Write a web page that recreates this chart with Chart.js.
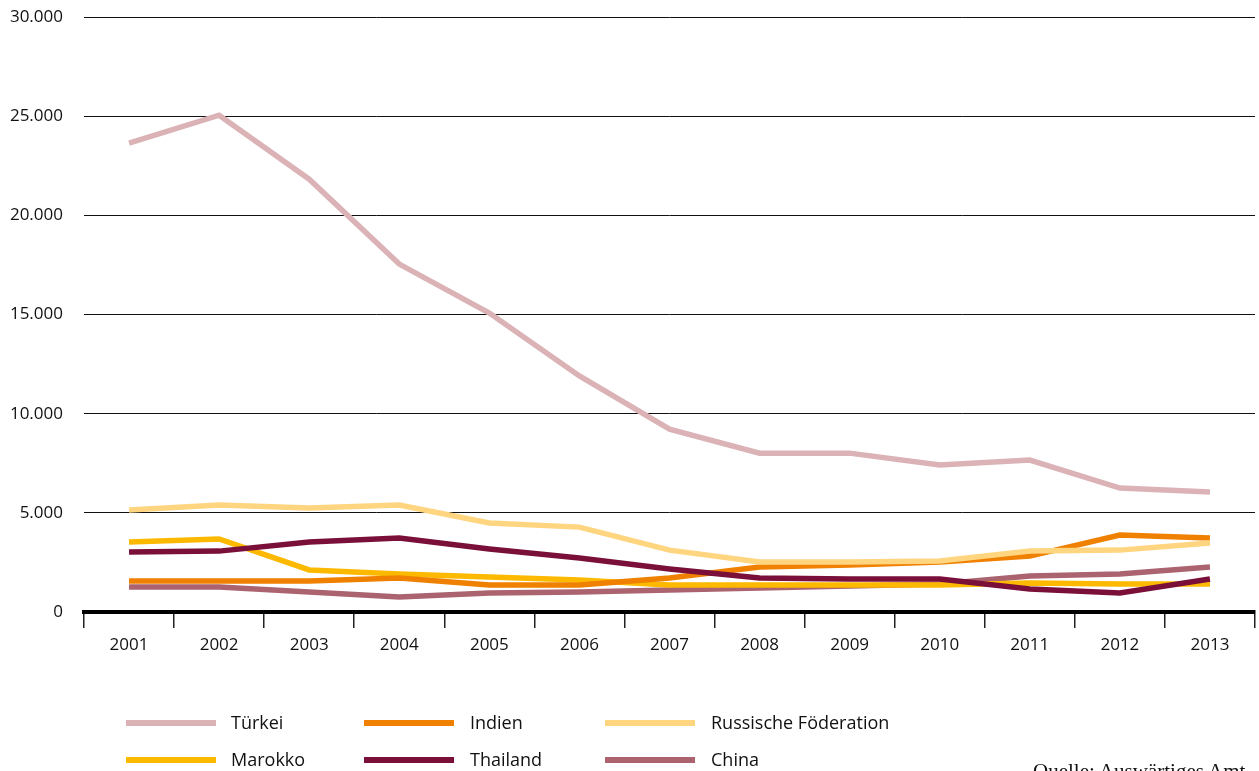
<!DOCTYPE html>
<html>
<head>
<meta charset="utf-8">
<script src="https://cdn.jsdelivr.net/npm/chart.js@4.4.1/dist/chart.umd.min.js"></script>
<style>
  html, body { margin:0; padding:0; background:#fff; }
  #wrap { position:relative; width:1259px; height:771px; overflow:hidden; font-family:'Open Sans', 'Noto Sans', sans-serif; }
  #chart { position:absolute; left:0; top:0; }
  .leg { position:absolute; font-size:18px; color:#111; line-height:20px; }
  .leg i { position:absolute; left:0; top:7px; width:90px; height:6px; }
  .leg span { position:absolute; white-space:nowrap; top:-1px; }
  #src { position:absolute; left:1033px; top:759px; font-family:'Liberation Serif', serif; font-size:21px; color:#111; white-space:nowrap; }
</style>
</head>
<body>
<div id="wrap">
  <canvas id="chart" width="1259" height="771"></canvas>
  <div id="legend"></div>
  <div id="src">Quelle: Auswärtiges Amt</div>
</div>
<script>
// ===== data =====
const years = ['2001','2002','2003','2004','2005','2006','2007','2008','2009','2010','2011','2012','2013'];
const tuerkei   = [23640, 25050, 21820, 17540, 15070, 11900, 9220, 8010, 8010, 7410, 7660, 6250, 6050];
const indien    = [1560, 1560, 1560, 1710, 1360, 1360, 1710, 2270, 2370, 2520, 2820, 3880, 3730];
const russland  = [5140, 5390, 5240, 5390, 4490, 4280, 3120, 2520, 2520, 2570, 3070, 3120, 3480];
const marokko   = [3530, 3680, 2120, 1920, 1760, 1610, 1360, 1360, 1360, 1360, 1460, 1410, 1410];
const thailand  = [3020, 3070, 3530, 3730, 3180, 2720, 2170, 1710, 1660, 1660, 1160, 960, 1660];
const china     = [1260, 1260, 1010, 760, 960, 1010, 1110, 1210, 1310, 1410, 1810, 1920, 2270];

const series = [
  { label:'Türkei', data:tuerkei, color:'#dbb3b7' },
  { label:'Indien', data:indien, color:'#f08000' },
  { label:'Russische Föderation', data:russland, color:'#ffd580' },
  { label:'Marokko', data:marokko, color:'#fdb900' },
  { label:'Thailand', data:thailand, color:'#7a103a' },
  { label:'China', data:china, color:'#aa636f' }
];
// drawing order (back to front)
const drawOrder = ['China','Marokko','Indien','Russische Föderation','Thailand','Türkei'];

const font = { family:"'Open Sans', 'Noto Sans', sans-serif", size:17 };

const datasets = series.map(s => ({
  label: s.label, data: s.data, borderColor: s.color, backgroundColor: s.color,
  borderWidth: 5.5, pointRadius: 0, tension: 0, fill: false,
  order: drawOrder.length - drawOrder.indexOf(s.label)
}));

new Chart(document.getElementById('chart'), {
  type: 'line',
  data: { labels: years, datasets },
  options: {
    responsive: false, animation: false,
    layout: { padding: { top: 17, right: 4, left: 0, bottom: 0 } },
    plugins: { legend: { display: false }, tooltip: { enabled: false } },
    scales: {
      x: {
        offset: true,
        grid: { offset: true, drawOnChartArea: false, drawTicks: true, tickLength: 16, color: '#222', lineWidth: 1.5 },
        border: { display: true, color: '#000', width: 4 },
        ticks: { color: '#111', font, padding: 7, maxRotation: 0 },
        afterFit: s => { s.height = 159; s.paddingLeft = 0; s.paddingRight = 0; }
      },
      y: {
        min: 0, max: 30000,
        ticks: { stepSize: 5000, color: '#111', font, padding: 21,
          callback: v => v.toLocaleString('de-DE') },
        grid: { color: '#111', lineWidth: 1, drawTicks: false },
        border: { display: false },
        afterFit: s => { s.width = 84; s.paddingTop = 0; s.paddingBottom = 0; }
      }
    }
  }
});

// ===== HTML legend =====
const legPos = [
  { x:126, y:713 }, { x:364, y:713 }, { x:605, y:713 },
  { x:126, y:750 }, { x:364, y:750 }, { x:605, y:750 }
];
const leg = document.getElementById('legend');
series.forEach((s, i) => {
  const d = document.createElement('div');
  d.className = 'leg';
  d.style.left = legPos[i].x + 'px';
  d.style.top = legPos[i].y + 'px';
  d.innerHTML = `<i style="background:${s.color}"></i><span style="left:${i % 3 === 0 ? 105 : 106}px">${s.label}</span>`;
  leg.appendChild(d);
});
</script>
</body>
</html>
